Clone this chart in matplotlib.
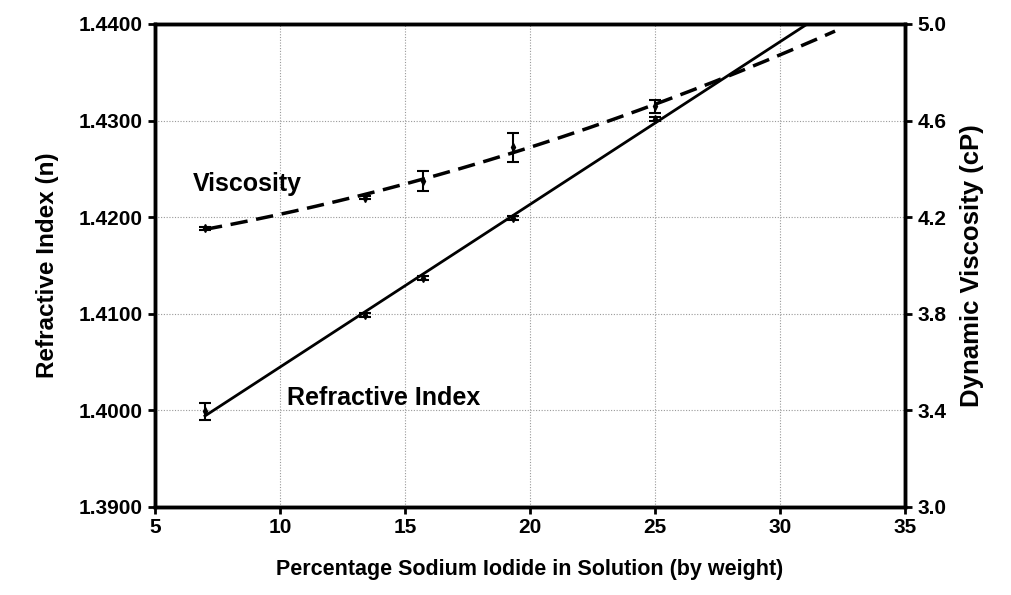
import numpy as np
import matplotlib
matplotlib.use('Agg')
import matplotlib.pyplot as plt

plt.rcParams['font.family'] = ['Liberation Sans', 'DejaVu Sans']
plt.rcParams['font.weight'] = 'bold'

# Refractive index data (left axis)
conc = [7.0, 13.4, 15.7, 19.3, 25.0]
ri = [1.3999, 1.4099, 1.4137, 1.4199, 1.4302]
ri_err = [0.0009, 0.0002, 0.0002, 0.0002, 0.0002]

# Viscosity data (right axis)
visc = [4.155, 4.28, 4.35, 4.49, 4.66]
visc_err = [0.006, 0.006, 0.04, 0.06, 0.027]

x_ticks = [5, 10, 15, 20, 25, 30, 35]
ri_ticks = [1.39, 1.40, 1.41, 1.42, 1.43, 1.44]
visc_ticks = [3.0, 3.4, 3.8, 4.2, 4.6, 5.0]

fig = plt.figure(figsize=(10.11, 5.95), dpi=100)
ax = fig.add_axes([0.1533, 0.1479, 0.7419, 0.8118])
ax2 = ax.twinx()

# trendlines
xfit = np.linspace(7, 32.2, 200)
p_ri = np.polyfit(conc, ri, 1)
ax.plot(xfit, np.polyval(p_ri, xfit), color='black', lw=2.0, zorder=3)
ax.errorbar(conc, ri, yerr=ri_err, fmt='d', color='black', ms=4,
            capsize=4, elinewidth=1.5, capthick=1.5, zorder=4)

p_v = np.polyfit(conc, visc, 2)
ax2.plot(xfit, np.polyval(p_v, xfit), color='black', lw=2.5,
         dashes=(5, 2.5), zorder=3)
ax2.errorbar(conc, visc, yerr=visc_err, fmt='d', color='black', ms=4,
             capsize=4, elinewidth=1.5, capthick=1.5, zorder=4)

ax.set_xlim(5, 35)
ax.set_ylim(1.39, 1.44)
ax2.set_ylim(3.0, 5.0)
ax.set_xticks(x_ticks)
ax.set_yticks(ri_ticks)
ax.set_yticklabels([f'{v:.4f}' for v in ri_ticks])
ax2.set_yticks(visc_ticks)
ax2.set_yticklabels([f'{v:.1f}' for v in visc_ticks])

ax.grid(True, color='#999999', linestyle=(0, (1, 1.5)), lw=0.8)
ax.set_axisbelow(True)

for a in (ax, ax2):
    for s in a.spines.values():
        s.set_linewidth(2.5)
    a.tick_params(direction='out', length=5, width=2, labelsize=15, pad=4)
ax.tick_params(axis='x', pad=3)

ax.set_xlabel('Percentage Sodium Iodide in Solution (by weight)', fontsize=15.5,
              fontweight='bold', labelpad=16)
ax.set_ylabel('Refractive Index (n)', fontsize=17.5, fontweight='bold', labelpad=14)
ax2.set_ylabel('Dynamic Viscosity (cP)', fontsize=18.5, fontweight='bold', labelpad=10)

ax.text(6.5, 1.4234, 'Viscosity', fontsize=18, fontweight='bold', va='center')
ax.text(10.3, 1.4013, 'Refractive Index', fontsize=18, fontweight='bold', va='center')

fig.savefig('out.png', dpi=100)
